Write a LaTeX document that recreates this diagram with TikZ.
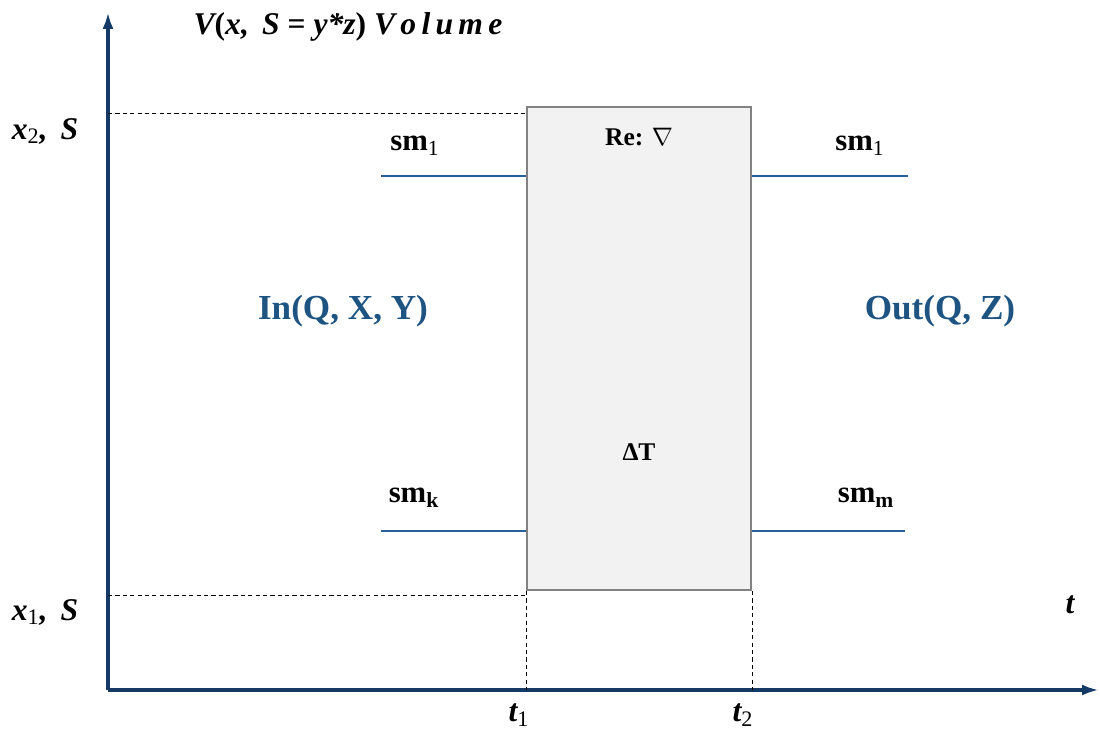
\documentclass[tikz,border=0pt]{standalone}
\usepackage{fontspec}
\setmainfont{Liberation Serif}
\usetikzlibrary{arrows.meta,positioning,calc}
\definecolor{axisblue}{RGB}{22,58,102}
\definecolor{lineblue}{RGB}{40,96,152}
\definecolor{textblue}{RGB}{30,84,130}
\definecolor{boxgray}{RGB}{242,242,242}
\definecolor{edgegray}{RGB}{130,130,130}

\begin{document}
\begin{tikzpicture}[x=0.02cm, y=-0.02cm, every node/.style={font=\bfseries, inner sep=0pt}]
\tikzset{axis/.style={axisblue, line width=2pt, -{Latex[length=3.4mm, width=2.2mm]}}}
\tikzset{guide/.style={dashed, line width=0.5pt, dash pattern=on 2.4pt off 1.8pt}}
\tikzset{stream/.style={lineblue, line width=1.4pt}}
\tikzset{flowlbl/.style={font=\bfseries\fontsize{20}{24}\selectfont, text=textblue}}
\tikzset{smlbl/.style={font=\bfseries\fontsize{17.5}{20}\selectfont}}
\tikzset{axlbl/.style={font=\bfseries\itshape\fontsize{18}{21}\selectfont}}
\useasboundingbox (0,0) rectangle (1100,729);
% axes
\coordinate (o) at (108,690);
\coordinate (ytop) at (108,12);
\coordinate (xend) at (1099,690);
\draw[axis] (o) -- (ytop);
\draw[axis] (o) -- (xend);
% reaction box
\node[draw=edgegray, fill=boxgray, line width=1.2pt, minimum width=4.48cm, minimum height=9.66cm] (box) at (639,348.5) {};
\node[font=\bfseries\fontsize{14.5}{16}\selectfont] (re) at (639,137) {Re: $\nabla$};
\node[font=\bfseries\fontsize{14.5}{16}\selectfont] (dt) at (639,452) {ΔT};
% guide lines
\coordinate (x2) at (108,113);
\coordinate (x1) at (108,595);
\draw[guide] (x2) -- (x2 -| box.west);
\draw[guide] (x1) -- (x1 -| box.west);
\draw[guide] (box.south west) -- (box.south west |- o);
\draw[guide] (box.south east) -- (box.south east |- o);
% streams in / out
\coordinate (inA) at (381,176);
\coordinate (inB) at (381,531);
\coordinate (outA) at (908,176);
\coordinate (outB) at (905,531);
\draw[stream] (inA) -- (inA -| box.west);
\draw[stream] (inB) -- (inB -| box.west);
\draw[stream] (box.east |- outA) -- (outA);
\draw[stream] (box.east |- outB) -- (outB);
\node[smlbl] (smA) at (415,146) {sm\textsubscript{\mdseries 1}};
\node[smlbl] (smB) at (414,498) {sm\textsubscript{k}};
\node[smlbl] (smC) at (860,146) {sm\textsubscript{\mdseries 1}};
\node[smlbl] (smD) at (866,498) {sm\textsubscript{m}};
\node[flowlbl] (in) at (343,311) {In(Q, X, Y)};
\node[flowlbl] (out) at (940,311) {Out(Q, Z)};
% axis labels
\node[axlbl] (vol) at (348,27) {V\upshape(\itshape x,\, S \upshape= \itshape y*z\upshape) \itshape V\,o\,l\,u\,m\,e};
\node[axlbl] (lx2) at (45,131) {x\textsubscript{\upshape\mdseries 2}, \,S};
\node[axlbl] (lx1) at (45,612) {x\textsubscript{\upshape\mdseries 1}, \,S};
\node[axlbl] (lt) at (1070,605) {t};
\node[axlbl] (lt1) at (519,715) {t\textsubscript{\upshape\mdseries 1}};
\node[axlbl] (lt2) at (743,715) {t\textsubscript{\upshape\mdseries 2}};
\end{tikzpicture}
\end{document}
